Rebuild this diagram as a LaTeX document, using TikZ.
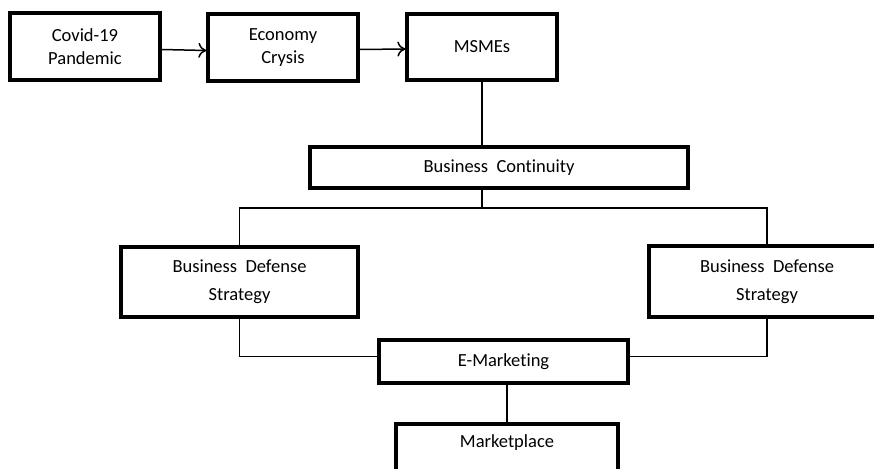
\documentclass[tikz,border=0pt]{standalone}
\usepackage{fontspec}
\setmainfont{Carlito}[Ligatures={NoCommon}]
\usetikzlibrary{arrows.meta}
\begin{document}
\begin{tikzpicture}[x=1pt,y=-1pt,
  box/.style={draw=black,line width=3.3pt,fill=white,inner sep=0pt,align=center,font=\fontsize{18.5}{22.5}\selectfont},
  widebox/.style={box,font=\fontsize{18.5}{28}\selectfont},
  conn/.style={draw=black,line width=1.5pt},
  arr/.style={conn,-{To[length=8pt,width=15pt,line width=1.5pt]}}]
\useasboundingbox (0,0) rectangle (874,468);
\clip (0,0) rectangle (874,468);
\fill[white] (0,0) rectangle (874,468);
\node[box,minimum width=150,minimum height=67] (b1) at (85,46.5) {Covid-19\\Pandemic};
\node[box,minimum width=150,minimum height=67] (b2) at (283,47.5) {Economy\\Crysis};
\node[box,minimum width=150,minimum height=66] (b3) at (482,47) {MSMEs};
\node[box,minimum width=378,minimum height=41] (bc) at (499,167.5) {Business\ \ Continuity};
\node[widebox,minimum width=237,minimum height=70] (lb) at (239.5,282) {Business\ \ Defense\\Strategy};
\node[widebox,minimum width=236,minimum height=71] (rb) at (767,281.5) {Business\ \ Defense\\Strategy};
\node[box,minimum width=249,minimum height=43] (em) at (503.5,361.5) {E-Marketing};
\node[box,minimum width=222,minimum height=62] (mp) at (507,455) {};
\node[font=\fontsize{18.5}{22.5}\selectfont,inner sep=0pt] (mpt) at (507,443) {Marketplace};
\coordinate (j) at (482,208);
\draw[arr] ([yshift=-3pt]b1.east) -- ([yshift=-3pt]b2.west);
\draw[arr] ([yshift=-2pt]b2.east) -- ([yshift=-2pt]b3.west);
\draw[conn] (b3.south) -- (b3.south |- bc.north);
\draw[conn] (bc.south -| j) -- (j);
\draw[conn] (lb.north) |- (j) -| (rb.north);
\draw[conn] (lb.south) |- ([yshift=5pt]em.west);
\draw[conn] (rb.south) |- ([yshift=5pt]em.east);
\draw[conn] (em.south -| mp.north) -- (mp.north);
\end{tikzpicture}
\end{document}
